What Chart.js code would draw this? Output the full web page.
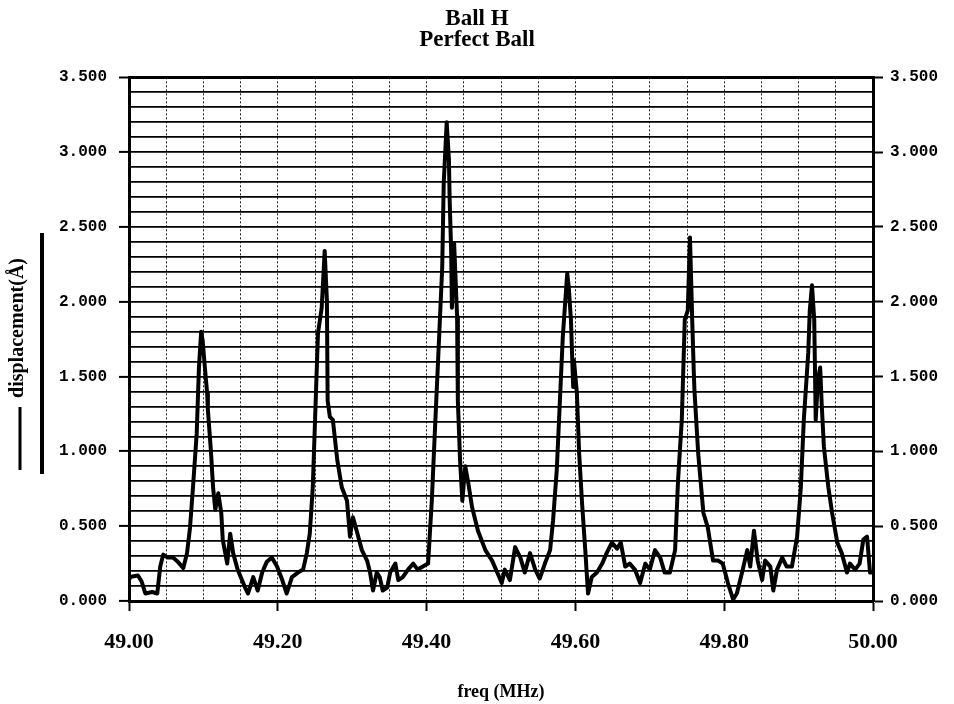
<!DOCTYPE html>
<html>
<head>
<meta charset="utf-8">
<script src="https://cdn.jsdelivr.net/npm/chart.js@4.4.1/dist/chart.umd.min.js"></script>
<style>
  html, body { margin: 0; padding: 0; background: #fff; }
  #wrap { width: 954px; height: 704px; }
</style>
</head>
<body>
<div id="wrap"><canvas id="chart" width="954" height="704"></canvas></div>
<script>
// Ball H / Perfect Ball - displacement vs frequency sweep

const titleLines = ['Ball H', 'Perfect Ball']
const xLabel = 'freq (MHz)'
const yLabel = 'displacement(Å)'

// x range and tick steps
const xMin = 49.0, xMax = 50.0, xStep = 0.05, xLabelStep = 0.2
const yMin = 0, yMax = 3.5, yStep = 0.1, yLabelStep = 0.5

// trace (MHz)
const freq = [
  49.000, 49.001, 49.012, 49.017, 49.022, 49.031, 49.038, 49.042, 49.046, 49.052,
  49.059, 49.066, 49.073, 49.078, 49.082, 49.086, 49.091, 49.094, 49.097, 49.099,
  49.102, 49.105, 49.106, 49.110, 49.113, 49.116, 49.120, 49.124, 49.126, 49.132,
  49.136, 49.140, 49.146, 49.156, 49.160, 49.167, 49.173, 49.179, 49.185, 49.192,
  49.199, 49.206, 49.212, 49.219, 49.227, 49.234, 49.239, 49.243, 49.247, 49.250,
  49.254, 49.259, 49.263, 49.266, 49.267, 49.270, 49.274, 49.280, 49.286, 49.293,
  49.297, 49.301, 49.306, 49.313, 49.320, 49.324, 49.328, 49.333, 49.337, 49.341,
  49.347, 49.351, 49.358, 49.362, 49.368, 49.375, 49.382, 49.388, 49.395, 49.402,
  49.407, 49.411, 49.415, 49.421, 49.423, 49.427, 49.430, 49.431, 49.433, 49.434,
  49.437, 49.441, 49.442, 49.445, 49.448, 49.452, 49.456, 49.461, 49.469, 49.479,
  49.488, 49.495, 49.501, 49.505, 49.512, 49.519, 49.526, 49.532, 49.539, 49.546,
  49.552, 49.559, 49.566, 49.570, 49.575, 49.579, 49.583, 49.589, 49.591, 49.594,
  49.597, 49.598, 49.602, 49.605, 49.609, 49.613, 49.617, 49.622, 49.629, 49.636,
  49.642, 49.649, 49.656, 49.661, 49.667, 49.673, 49.680, 49.687, 49.694, 49.700,
  49.707, 49.714, 49.720, 49.727, 49.734, 49.738, 49.743, 49.747, 49.751, 49.754,
  49.757, 49.759, 49.760, 49.765, 49.772, 49.778, 49.785, 49.792, 49.798, 49.805,
  49.812, 49.817, 49.824, 49.831, 49.835, 49.840, 49.845, 49.851, 49.855, 49.862,
  49.866, 49.871, 49.878, 49.884, 49.891, 49.898, 49.903, 49.907, 49.913, 49.915,
  49.918, 49.921, 49.923, 49.926, 49.929, 49.931, 49.934, 49.940, 49.945, 49.952,
  49.958, 49.965, 49.969, 49.976, 49.982, 49.987, 49.992, 49.996, 50.000
]

// displacement in angstrom
const disp = [
  0.15, 0.16, 0.17, 0.13, 0.05, 0.06, 0.05, 0.23, 0.31, 0.29,
  0.29, 0.26, 0.22, 0.32, 0.49, 0.76, 1.12, 1.56, 1.80, 1.74,
  1.56, 1.39, 1.28, 1.01, 0.76, 0.61, 0.72, 0.59, 0.41, 0.25,
  0.45, 0.32, 0.21, 0.09, 0.05, 0.16, 0.07, 0.19, 0.26, 0.29,
  0.23, 0.14, 0.05, 0.16, 0.19, 0.21, 0.32, 0.45, 0.76, 1.20,
  1.79, 1.96, 2.34, 2.01, 1.34, 1.23, 1.21, 0.94, 0.76, 0.67,
  0.43, 0.56, 0.47, 0.34, 0.27, 0.19, 0.07, 0.19, 0.16, 0.07,
  0.09, 0.19, 0.25, 0.14, 0.16, 0.21, 0.25, 0.21, 0.23, 0.25,
  0.67, 1.12, 1.56, 2.23, 2.79, 3.20, 2.95, 2.68, 2.34, 1.96,
  2.39, 1.90, 1.34, 0.94, 0.67, 0.90, 0.79, 0.63, 0.47, 0.34,
  0.27, 0.19, 0.12, 0.21, 0.14, 0.36, 0.29, 0.19, 0.32, 0.21,
  0.15, 0.25, 0.34, 0.54, 0.88, 1.32, 1.76, 2.19, 2.10, 1.88,
  1.43, 1.61, 1.39, 0.99, 0.65, 0.36, 0.05, 0.16, 0.19, 0.25,
  0.32, 0.39, 0.35, 0.39, 0.23, 0.25, 0.21, 0.12, 0.25, 0.21,
  0.34, 0.29, 0.19, 0.19, 0.34, 0.81, 1.21, 1.88, 1.94, 2.43,
  1.88, 1.55, 1.41, 0.99, 0.59, 0.49, 0.27, 0.27, 0.25, 0.12,
  0.01, 0.05, 0.19, 0.34, 0.23, 0.47, 0.27, 0.14, 0.27, 0.23,
  0.07, 0.21, 0.29, 0.23, 0.23, 0.43, 0.76, 1.21, 1.66, 1.94,
  2.11, 1.88, 1.21, 1.48, 1.56, 1.32, 1.03, 0.76, 0.59, 0.39,
  0.32, 0.19, 0.25, 0.21, 0.25, 0.41, 0.43, 0.19, 0.19
]

const serif = '"Liberation Serif", "Times New Roman", serif'
const mono = '"Liberation Mono", "Courier New", monospace'

function isStep(v, step){
  const q = v / step
  return Math.abs(q - Math.round(q)) < 1e-6
}

// rotated y title plus the little legend strokes on the left
const leftLabel = {
  id: 'leftLabel',
  afterDraw(chart){
    const ctx = chart.ctx
    ctx.save()
    ctx.translate(18, 328)
    ctx.rotate(-Math.PI/2)
    ctx.font = 'bold 20px ' + serif
    ctx.fillStyle = '#000'
    ctx.textAlign = 'center'
    ctx.textBaseline = 'middle'
    ctx.fillText(yLabel, 0, 0)
    ctx.restore()
    ctx.save()
    ctx.strokeStyle = '#000'
    ctx.lineWidth = 3
    ctx.beginPath(); ctx.moveTo(20, 407); ctx.lineTo(20, 470); ctx.stroke()
    ctx.lineWidth = 4
    ctx.beginPath(); ctx.moveTo(42, 233); ctx.lineTo(42, 474); ctx.stroke()
    ctx.restore()
  }
}

const points = freq.map((f, i) => ({x: f, y: disp[i]}))

const yTickColor = c => isStep(c.tick.value, yLabelStep) ? '#000' : 'rgba(0,0,0,0)'

function stepTicks(min, max, step, digits){
  const t = []
  for (let i = 0; i <= Math.round((max - min) / step); i++) t.push({value: +(min + i * step).toFixed(digits)})
  return t
}

new Chart(document.getElementById('chart'), {
  type: 'line',
  data: {
    datasets: [{
      label: yLabel,
      data: points,
      borderColor: '#000',
      borderWidth: 4,
      pointRadius: 0,
      tension: 0,
      borderJoinStyle: 'round',
      fill: false
    }]
  },
  options: {
    responsive: false,
    animation: false,
    layout: { padding: { left: 0, right: 0, top: 0, bottom: 0 } },
    plugins: {
      legend: { display: false },
      tooltip: { enabled: false },
      title: {
        display: true,
        text: titleLines,
        color: '#000',
        font: { family: serif, size: 23, weight: 'bold', lineHeight: 0.92 },
        padding: { top: 8, bottom: 27 }
      }
    },
    scales: {
      x: {
        type: 'linear',
        min: xMin, max: xMax,
        afterFit: s => { s.height = 103 },
        afterBuildTicks: s => { s.ticks = stepTicks(xMin, xMax, xStep, 3) },
        ticks: {
          autoSkip: false, maxRotation: 0, padding: 18,
          color: '#000',
          font: { family: serif, size: 22, weight: 'bold' },
          callback: v => isStep(v - xMin, xLabelStep) ? v.toFixed(2) : ''
        },
        grid: {
          color: '#222',
          lineWidth: 1,
          tickLength: 10,
          tickColor: c => isStep(c.tick.value - xMin, xLabelStep) ? '#000' : 'rgba(0,0,0,0)',
          tickWidth: 2
        },
        border: { display: true, color: '#000', width: 3, dash: [2, 2] },
        title: {
          display: true, text: xLabel, color: '#000',
          font: { family: serif, size: 18, weight: 'bold' },
          padding: { top: 0, bottom: 1 }
        }
      },
      y: {
        type: 'linear',
        position: 'left',
        min: yMin, max: yMax,
        afterFit: s => { s.width = 129 },
        afterBuildTicks: s => { s.ticks = stepTicks(yMin, yMax, yStep, 2) },
        ticks: {
          autoSkip: false, padding: 12, color: '#000',
          font: { family: mono, size: 16, weight: 'bold' },
          callback: v => isStep(v, yLabelStep) ? v.toFixed(3) : ''
        },
        grid: {
          color: '#000',
          lineWidth: c => c.index === 35 ? 3 : 1.8,
          tickLength: 10,
          tickColor: yTickColor,
          tickWidth: 2
        },
        border: { display: true, color: '#000', width: 3 }
      },
      y2: {
        type: 'linear',
        position: 'right',
        min: yMin, max: yMax,
        afterFit: s => { s.width = 81 },
        afterBuildTicks: s => { s.ticks = stepTicks(yMin, yMax, yStep, 2) },
        ticks: {
          autoSkip: false, padding: 7, color: '#000',
          font: { family: mono, size: 16, weight: 'bold' },
          callback: v => isStep(v, yLabelStep) ? v.toFixed(3) : ''
        },
        grid: {
          drawOnChartArea: false,
          tickLength: 10,
          tickColor: yTickColor,
          tickWidth: 2
        },
        border: { display: true, color: '#000', width: 3 }
      }
    }
  },
  plugins: [leftLabel]
})
</script>
</body>
</html>
